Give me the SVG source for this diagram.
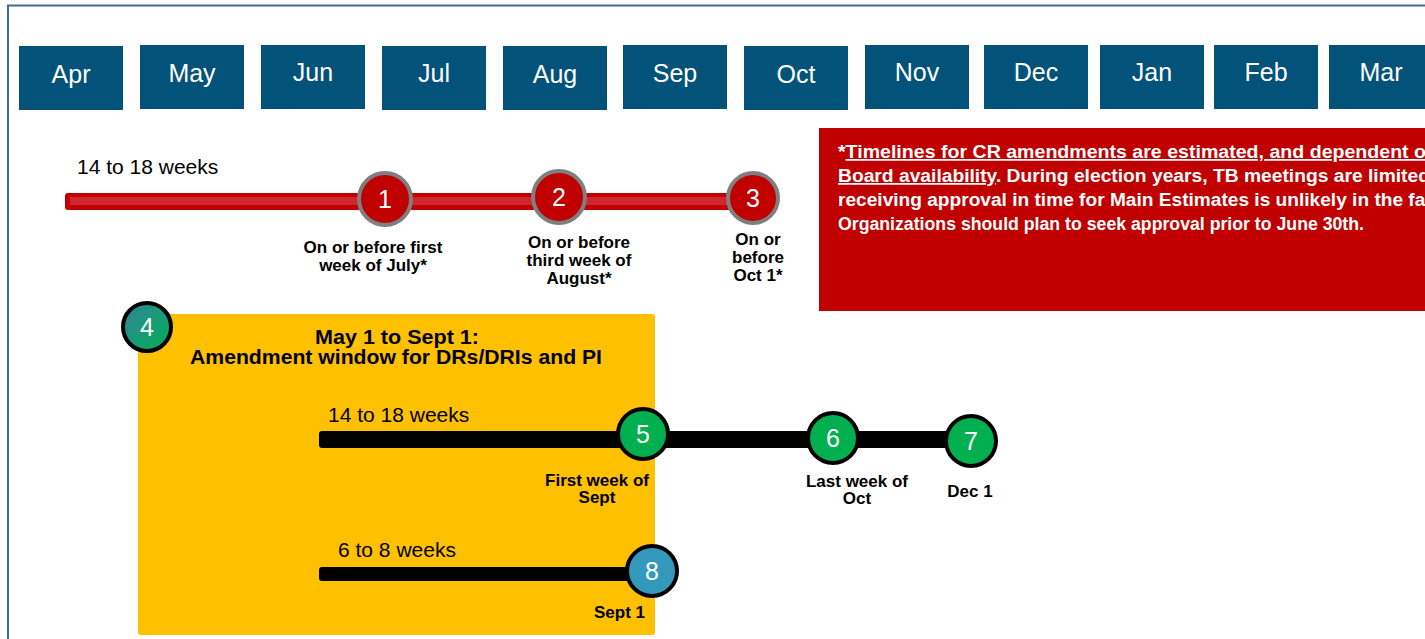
<svg xmlns="http://www.w3.org/2000/svg" width="1425" height="639" viewBox="0 0 1425 639">
<defs>
<style>
.month rect{fill:#03527A}
.month text{fill:#fff;font-family:"Liberation Sans",Arial,sans-serif;font-size:25px;text-anchor:middle}
.lbl{font-family:"Liberation Sans",Arial,sans-serif;font-size:17px;font-weight:bold;fill:#000;text-anchor:middle}
.wk{font-family:"Liberation Sans",Arial,sans-serif;font-size:21px;fill:#000}
.num{font-family:"Liberation Sans",Arial,sans-serif;font-size:25px;fill:#fff;text-anchor:middle}
.note{font-family:"Liberation Sans",Arial,sans-serif;font-size:17.5px;font-weight:bold;fill:#fff}
.ttl{font-family:"Liberation Sans",Arial,sans-serif;font-size:20px;font-weight:bold;fill:#000;text-anchor:middle}
.red circle{fill:#C00000;stroke:#7F7F7F;stroke-width:4}
.grn circle{fill:#00B050;stroke:#000;stroke-width:4}
</style>
<linearGradient id="g4" x1="0" y1="0" x2="1" y2="1">
<stop offset="0" stop-color="#31849B"/>
<stop offset="0.5" stop-color="#1A9A78"/>
<stop offset="1" stop-color="#00B050"/>
</linearGradient>
</defs>
<rect x="0" y="0" width="1425" height="639" fill="#fff"/>
<path d="M8 639 V5.5 H1425" fill="none" stroke="#3E6C8C" stroke-width="2"/>

<g id="months">
<g class="month" id="m-apr"><rect x="19" y="46" width="104" height="64"/><text x="71" y="83">Apr</text></g>
<g class="month" id="m-may"><rect x="140" y="45" width="104" height="64"/><text x="192" y="82">May</text></g>
<g class="month" id="m-jun"><rect x="261" y="45" width="104" height="64"/><text x="313" y="81">Jun</text></g>
<g class="month" id="m-jul"><rect x="382" y="46" width="104" height="64"/><text x="434" y="82">Jul</text></g>
<g class="month" id="m-aug"><rect x="503" y="46" width="104" height="64"/><text x="555" y="83">Aug</text></g>
<g class="month" id="m-sep"><rect x="623" y="45" width="104" height="64"/><text x="675" y="82">Sep</text></g>
<g class="month" id="m-oct"><rect x="744" y="46" width="104" height="64"/><text x="796" y="83">Oct</text></g>
<g class="month" id="m-nov"><rect x="865" y="45" width="104" height="64"/><text x="917" y="81">Nov</text></g>
<g class="month" id="m-dec"><rect x="984" y="45" width="104" height="64"/><text x="1036" y="81">Dec</text></g>
<g class="month" id="m-jan"><rect x="1100" y="45" width="104" height="64"/><text x="1152" y="81">Jan</text></g>
<g class="month" id="m-feb"><rect x="1214" y="45" width="104" height="64"/><text x="1266" y="81">Feb</text></g>
<g class="month" id="m-mar"><rect x="1329" y="45" width="104" height="64"/><text x="1381" y="81">Mar</text></g>
</g>

<g id="note">
<rect x="819" y="128" width="610" height="183" fill="#C00000"/>
<text class="note" x="838" y="158" textLength="600" lengthAdjust="spacingAndGlyphs">*<tspan text-decoration="underline">Timelines for CR amendments are estimated, and dependent on</tspan></text>
<text class="note" x="838" y="182" textLength="592" lengthAdjust="spacingAndGlyphs"><tspan text-decoration="underline">Board availability</tspan>. During election years, TB meetings are limited</text>
<text class="note" x="838" y="206" textLength="598" lengthAdjust="spacingAndGlyphs">receiving approval in time for Main Estimates is unlikely in the fall</text>
<text class="note" x="838" y="230" textLength="526" lengthAdjust="spacingAndGlyphs">Organizations should plan to seek approval prior to June 30th.</text>
</g>

<g id="window">
<rect x="138" y="314" width="517" height="321" rx="3" fill="#FFC000"/>
<text class="ttl" x="397" y="344" textLength="164" lengthAdjust="spacingAndGlyphs">May 1 to Sept 1:</text>
<text class="ttl" x="396" y="364" textLength="412" lengthAdjust="spacingAndGlyphs">Amendment window for DRs/DRIs and PI</text>
</g>

<g id="connectors">
<rect x="65" y="193" width="680" height="17" rx="3" fill="#C00000"/>
<rect x="70" y="197" width="670" height="8" fill="#D0262F"/>
<rect x="319" y="431" width="645" height="17" rx="3" fill="#000"/>
<rect x="319" y="567" width="325" height="14" rx="3" fill="#000"/>
</g>

<text class="wk" x="77" y="174">14 to 18 weeks</text>
<text class="wk" x="328" y="422">14 to 18 weeks</text>
<text class="wk" x="338" y="557">6 to 8 weeks</text>

<g id="n1" class="red"><circle cx="385" cy="199" r="26"/><text class="num" x="385" y="208">1</text>
<text class="lbl" x="373" y="253">On or before first</text><text class="lbl" x="373" y="271">week of July*</text></g>
<g id="n2" class="red"><circle cx="559" cy="197" r="26"/><text class="num" x="559" y="206">2</text>
<text class="lbl" x="579" y="248">On or before</text><text class="lbl" x="579" y="266">third week of</text><text class="lbl" x="579" y="284">August*</text></g>
<g id="n3" class="red"><circle cx="753" cy="198" r="25"/><text class="num" x="753" y="207">3</text>
<text class="lbl" x="758" y="245">On or</text><text class="lbl" x="758" y="263">before</text><text class="lbl" x="758" y="281">Oct 1*</text></g>

<g id="n4"><circle cx="147" cy="327" r="24" fill="url(#g4)" stroke="#000" stroke-width="4"/><text class="num" x="147" y="336">4</text></g>

<g id="n5" class="grn"><circle cx="643" cy="434" r="25"/><text class="num" x="643" y="443">5</text>
<text class="lbl" x="597" y="486">First week of</text><text class="lbl" x="597" y="503">Sept</text></g>
<g id="n6" class="grn"><circle cx="833" cy="438" r="25"/><text class="num" x="833" y="447">6</text>
<text class="lbl" x="857" y="487">Last week of</text><text class="lbl" x="857" y="504">Oct</text></g>
<g id="n7" class="grn"><circle cx="971" cy="441" r="25"/><text class="num" x="971" y="450">7</text>
<text class="lbl" x="970" y="497">Dec 1</text></g>
<g id="n8"><circle cx="652" cy="571" r="25" fill="#3399BB" stroke="#000" stroke-width="4"/><text class="num" x="652" y="580">8</text>
<text class="lbl" style="text-anchor:end" x="645" y="618">Sept 1</text></g>
</svg>
